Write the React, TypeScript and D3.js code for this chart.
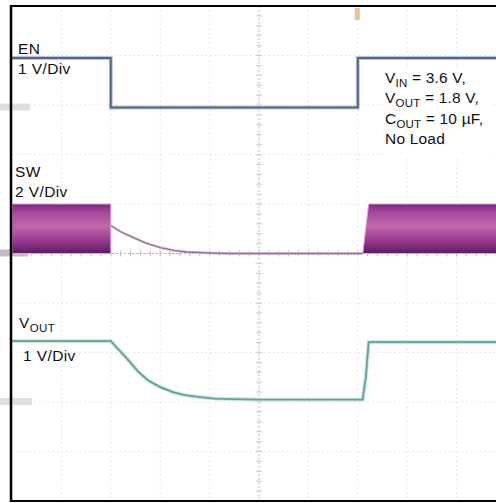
import React from 'react';
import * as d3 from 'd3';

// Time axis in divisions (10 divisions across the screen)
const gridDivs = [0, 1, 2, 3, 4, 5, 6, 7, 8, 9, 10];

// EN channel (1 V/Div)
const enT = [0, 2.0, 2.0, 7.0, 7.0, 10.2];
const enV = [1.0, 1.0, 0, 0, 1.0, 1.0];

// SW channel (2 V/Div): switching envelope bursts + decay after disable
const swBurst1T = [0, 2.0];
const swBurst1V = [2.0, 2.0];
const swBurst2T = [7.1, 7.22, 10.2];
const swBurst2V = [0, 2.0, 2.0];
const swDecayT = [2.0, 2.2, 2.45, 2.7, 3.0, 3.3, 3.55, 4.0, 4.4, 7.1];
const swDecayV = [1.13, 0.88, 0.65, 0.43, 0.24, 0.12, 0.06, 0.02, 0, 0];

// VOUT channel (1 V/Div)
const voutT = [0, 2.0, 2.15, 2.35, 2.55, 2.75, 3.0, 3.26, 3.5, 3.8, 4.1, 4.47, 5.0, 6.0, 7.1, 7.12, 7.16, 7.22, 10.2];
const voutV = [1.21, 1.21, 1.05, 0.83, 0.6, 0.42, 0.28, 0.18, 0.12, 0.08, 0.05, 0.04, 0.03, 0.03, 0.03, 0.2, 0.45, 1.19, 1.19];

// channel settings: ground position (divisions from top), volts per division
const channels = {
  en: { ground: 2.05, vPerDiv: 1 },
  sw: { ground: 5.0, vPerDiv: 2 },
  vout: { ground: 7.98, vPerDiv: 1 },
};

const annotation = [
  { main: 'V', sub: 'IN', rest: ' = 3.6 V,' },
  { main: 'V', sub: 'OUT', rest: ' = 1.8 V,' },
  { main: 'C', sub: 'OUT', rest: ' = 10 \u00B5F,' },
  { main: 'No Load', sub: '', rest: '' },
];

const W = 496;
const H = 503;

export default function App() {
  const x = d3.scaleLinear().domain([0, 10]).range([12, 506]);
  const y = d3.scaleLinear().domain([0, 10]).range([6, 501]);
  const yCh = (ch: { ground: number; vPerDiv: number }) => (v: number) => y(ch.ground - v / ch.vPerDiv);
  const yEn = yCh(channels.en);
  const ySw = yCh(channels.sw);
  const yVo = yCh(channels.vout);

  const line = (ts: number[], vs: number[], fy: (v: number) => number) =>
    d3.line<number>().x((_, i) => x(ts[i])).y((_, i) => fy(vs[i]))(ts.map((_, i) => i)) || '';
  const area = (ts: number[], vs: number[], fy: (v: number) => number) =>
    d3.area<number>().x((_, i) => x(ts[i])).y0(fy(0)).y1((_, i) => fy(vs[i]))(ts.map((_, i) => i)) || '';

  const minor = d3.range(0, 10.01, 0.2);
  const font = '"Liberation Sans", Arial, Helvetica, sans-serif';

  return (
    <svg width={W} height={H} style={{ position: 'absolute', left: 0, top: 0, background: '#fff' }} fontFamily={font}>
      <defs>
        <linearGradient id="swGrad" x1="0" y1="0" x2="0" y2="1">
          <stop offset="0%" stopColor="#7a2880" />
          <stop offset="15%" stopColor="#a2469a" />
          <stop offset="45%" stopColor="#c266aa" />
          <stop offset="75%" stopColor="#98378f" />
          <stop offset="100%" stopColor="#5c1a64" />
        </linearGradient>
      </defs>
      {/* grid */}
      <g>
        {gridDivs.map((d) => (
          <line key={'v' + d} x1={x(d)} x2={x(d)} y1={y(0)} y2={y(10)} stroke="#e0e0e0" strokeWidth={1} strokeDasharray="1.5,3" />
        ))}
        {gridDivs.map((d) => (
          <line key={'h' + d} x1={x(0)} x2={x(10)} y1={y(d)} y2={y(d)} stroke="#e0e0e0" strokeWidth={1} strokeDasharray="1.5,3" />
        ))}
        {/* center axes with minor ticks */}
        <line x1={x(5)} x2={x(5)} y1={y(0)} y2={y(10)} stroke="#c4c4c4" strokeWidth={1} strokeDasharray="2,2" />
        <line x1={x(0)} x2={x(10)} y1={y(5)} y2={y(5)} stroke="#b0b0b0" strokeWidth={1} strokeDasharray="2,2" />
        {minor.map((d) => (
          <line key={'tx' + d} x1={x(d)} x2={x(d)} y1={y(5) - 3} y2={y(5) + 3} stroke="#bbbbbb" strokeWidth={1} />
        ))}
        {minor.map((d) => (
          <line key={'ty' + d} x1={x(5) - 3} x2={x(5) + 3} y1={y(d)} y2={y(d)} stroke="#cccccc" strokeWidth={1} />
        ))}
      </g>

      {/* ground markers (left) */}
      <rect x={0} y={yEn(0) - 4} width={30} height={7} fill="#c8c8c8" opacity={0.6} />
      <rect x={0} y={ySw(0) - 4} width={28} height={7} fill="#a090a8" opacity={0.6} />
      <rect x={0} y={yVo(0) - 3} width={32} height={7} fill="#c8c8c8" opacity={0.6} />
      {/* trigger marker */}
      <rect x={x(7) - 3} y={8} width={5} height={12} fill="#e9b27a" opacity={0.8} />

      {/* SW channel */}
      <path d={area(swBurst1T, swBurst1V, ySw)} fill="url(#swGrad)" stroke="#d9a8d6" strokeWidth={1} />
      <path d={area(swBurst2T, swBurst2V, ySw)} fill="url(#swGrad)" stroke="#d9a8d6" strokeWidth={1} />
      <path d={line(swDecayT, swDecayV, ySw)} fill="none" stroke="#e6d0e4" strokeWidth={3} />
      <path d={line(swDecayT, swDecayV, ySw)} fill="none" stroke="#8c748e" strokeWidth={1.3} />

      {/* EN channel */}
      <path d={line(enT, enV, yEn)} fill="none" stroke="#b8c8e2" strokeWidth={4} />
      <path d={line(enT, enV, yEn)} fill="none" stroke="#5a6480" strokeWidth={2} />

      {/* VOUT channel */}
      <path d={line(voutT, voutV, yVo)} fill="none" stroke="#c8e8e4" strokeWidth={4} />
      <path d={line(voutT, voutV, yVo)} fill="none" stroke="#66a09a" strokeWidth={1.8} />

      {/* labels */}
      <g fontSize={15.5} letterSpacing={0.4} fill="#111">
        <text x={18} y={54}>EN</text>
        <text x={18} y={74}>1 V/Div</text>
        <text x={15} y={177}>SW</text>
        <text x={15} y={197}>2 V/Div</text>
        <text x={19} y={328}>V<tspan fontSize={11.5} dy={4}>OUT</tspan></text>
        <text x={23} y={361}>1 V/Div</text>
      </g>

      {/* annotation box */}
      <rect x={383} y={66} width={110} height={92} fill="#fff" />
      <g fontSize={15.5} letterSpacing={0.2} fill="#111">
        {annotation.map((a, i) => (
          <text key={i} x={385} y={83 + i * 20.3}>
            {a.main}
            {a.sub ? <tspan fontSize={11.5} dy={4}>{a.sub}</tspan> : null}
            {a.rest ? <tspan dy={a.sub ? -4 : 0}>{a.rest}</tspan> : null}
          </text>
        ))}
      </g>

      {/* frame */}
      <line x1={11} x2={11} y1={5} y2={502} stroke="#000" strokeWidth={2.5} />
      <line x1={10} x2={W} y1={6} y2={6} stroke="#000" strokeWidth={2} />
      <line x1={10} x2={W} y1={501} y2={501} stroke="#000" strokeWidth={2} />
    </svg>
  );
}
